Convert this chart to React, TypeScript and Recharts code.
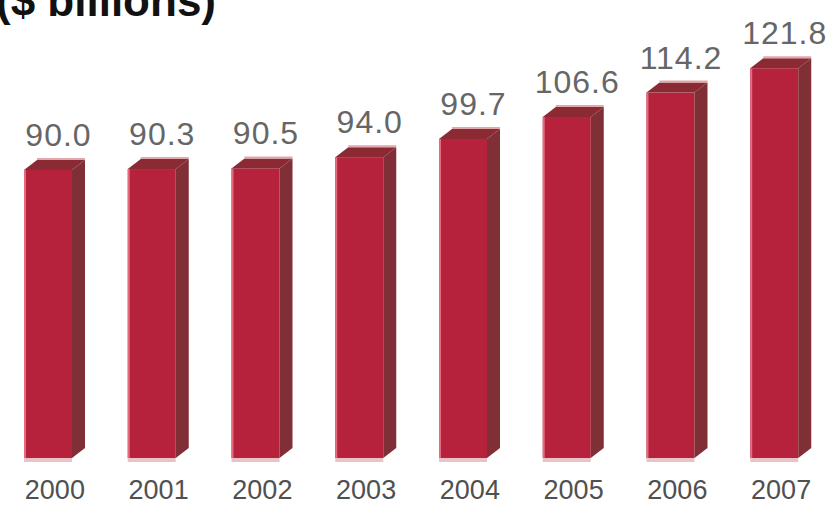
import React from "react";
import { BarChart, Bar, XAxis, YAxis, LabelList } from "recharts";

const years = ["2000", "2001", "2002", "2003", "2004", "2005", "2006", "2007"];
const values = [90.0, 90.3, 90.5, 94.0, 99.7, 106.6, 114.2, 121.8];

const data = years.map((year, i) => ({ year, value: values[i] }));

const FRONT = "#B6213B";
const SIDE = "#7F2F35";
const TOP = "#8C2A34";
const DEPTH_X = 13;
const DEPTH_Y = 10;

// fake 3D column: front face, dark right side and a sheared top
const Bar3D = (props: any) => {
  const { x, y, width, height } = props;
  const fw = width - DEPTH_X;
  const side = `M${x + fw},${y} L${x + width},${y - DEPTH_Y} L${x + width},${
    y + height - DEPTH_Y
  } L${x + fw},${y + height} Z`;
  const top = `M${x},${y} L${x + fw},${y} L${x + width},${y - DEPTH_Y} L${
    x + DEPTH_X
  },${y - DEPTH_Y} Z`;
  return (
    <g>
      <rect x={x} y={y + height} width={fw} height={4} fill="#E9C3C6" />
      <rect x={x} y={y} width={fw} height={height} fill={FRONT} />
      <rect x={x} y={y} width={2} height={height} fill="#E36A80" />
      <path d={side} fill={SIDE} />
      <path d={top} fill={TOP} />
      <line
        x1={x + DEPTH_X}
        y1={y - DEPTH_Y - 1}
        x2={x + width}
        y2={y - DEPTH_Y - 1}
        stroke="#E2A7AC"
        strokeWidth={2}
      />
    </g>
  );
};

const ValueLabel = (props: any) => {
  const { x, y, width, value } = props;
  return (
    <text
      x={x + width / 2 + 4}
      y={y - 24}
      textAnchor="middle"
      fontFamily="Liberation Sans, Arial, sans-serif"
      fontSize={32}
      letterSpacing={1}
      fill="#666666"
    >
      {Number(value).toFixed(1)}
    </text>
  );
};

export default function App() {
  return (
    <div
      style={{
        position: "absolute",
        left: 0,
        top: 0,
        width: 833,
        height: 505,
        background: "#fff",
        overflow: "hidden",
      }}
    >
      <div
        style={{
          position: "absolute",
          left: -4,
          top: -24,
          fontFamily: "Liberation Sans, Arial, sans-serif",
          fontWeight: "bold",
          fontSize: 44,
          color: "#111",
          whiteSpace: "nowrap",
        }}
      >
        ($ billions)
      </div>
      <BarChart
        width={833}
        height={505}
        data={data}
        margin={{ top: 42, right: 0, left: 3, bottom: 0 }}
        barSize={61}
      >
        <XAxis
          dataKey="year"
          axisLine={false}
          tickLine={false}
          height={47}
          interval={0}
          tick={{
            fontFamily: "Liberation Sans, Arial, sans-serif",
            fontSize: 27,
            fill: "#505050",
            dy: 14,
          }}
        />
        <YAxis hide domain={[0, 130]} />
        <Bar dataKey="value" shape={<Bar3D />} isAnimationActive={false}>
          <LabelList dataKey="value" content={<ValueLabel />} />
        </Bar>
      </BarChart>
    </div>
  );
}
